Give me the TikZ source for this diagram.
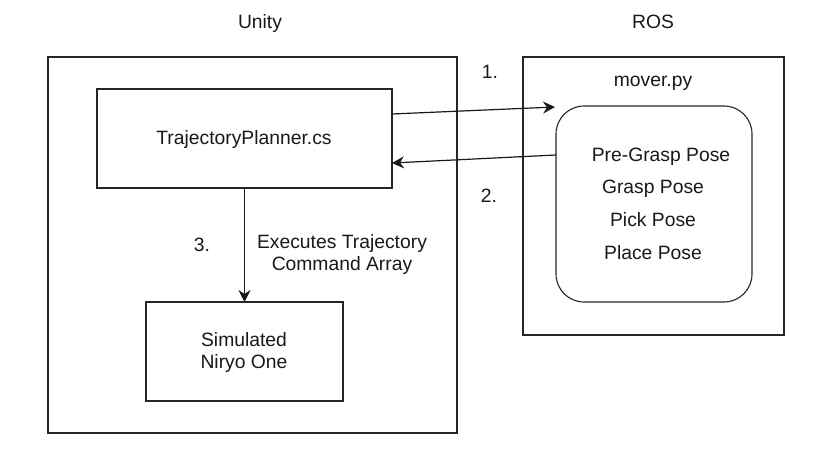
\documentclass[tikz,border=0pt]{standalone}
\usepackage{fontspec}
\setmainfont{Liberation Sans}
\usetikzlibrary{arrows.meta,calc}
\begin{document}
\begin{tikzpicture}[x=1pt,y=-1pt,
  box/.style={draw=black!85,line width=1.1pt,inner sep=0pt,outer sep=0pt},
  lbl/.style={anchor=base,inner sep=0pt,font=\fontsize{19.3}{23}\selectfont,text=black!90},
  conn/.style={draw=black!90,line width=1.2pt,-{Stealth[length=12pt,width=12pt,inset=4pt]}}]
\useasboundingbox[fill=white] (0,0) rectangle (826,468);
% frames
\node[box,minimum width=409pt,minimum height=376pt] (unity) at (252.5,245) {};
\node[box,minimum width=261pt,minimum height=278pt] (ros) at (653.5,196) {};
\node[box,minimum width=295pt,minimum height=99pt] (tp) at (244.5,138.5) {};
\node[box,minimum width=197pt,minimum height=99pt] (sim) at (244.5,351.5) {};
\node[box,rounded corners=28pt,minimum width=196pt,minimum height=196pt] (poses) at (654,204) {};
% texts
\node[lbl] (tUnity) at (260,29) {Unity};
\node[lbl] (tROS) at (653,29) {ROS};
\node[lbl] (tMover) at (653,87) {mover.py};
\node[lbl] (tTP) at (244,144) {TrajectoryPlanner.cs};
\node[lbl] (tSim1) at (244,346) {Simulated};
\node[lbl] (tSim2) at (244,368) {Niryo One};
\node[lbl] (tPre) at (661,161) {Pre-Grasp Pose};
\node[lbl] (tGrasp) at (653,193) {Grasp Pose};
\node[lbl] (tPick) at (653,226) {Pick Pose};
\node[lbl] (tPlace) at (653,259) {Place Pose};
\node[lbl] (tOne) at (490,79) {1.};
\node[lbl] (tTwo) at (489,202) {2.};
\node[lbl] (tThree) at (202,251) {3.};
\node[lbl] (tExec1) at (342,248) {Executes Trajectory};
\node[lbl] (tExec2) at (342,270) {Command Array};
% connectors
\coordinate (p1end) at ($(poses.north west)+(-1,1)$);
\draw[conn] ($(tp.east)+(0,-24.5)$) -- (p1end);
\draw[conn] ($(poses.west)+(0,-49)$) -- ($(tp.east)+(0,24.5)$);
\draw[conn] (tp.south) -- (sim.north);
\end{tikzpicture}
\end{document}
